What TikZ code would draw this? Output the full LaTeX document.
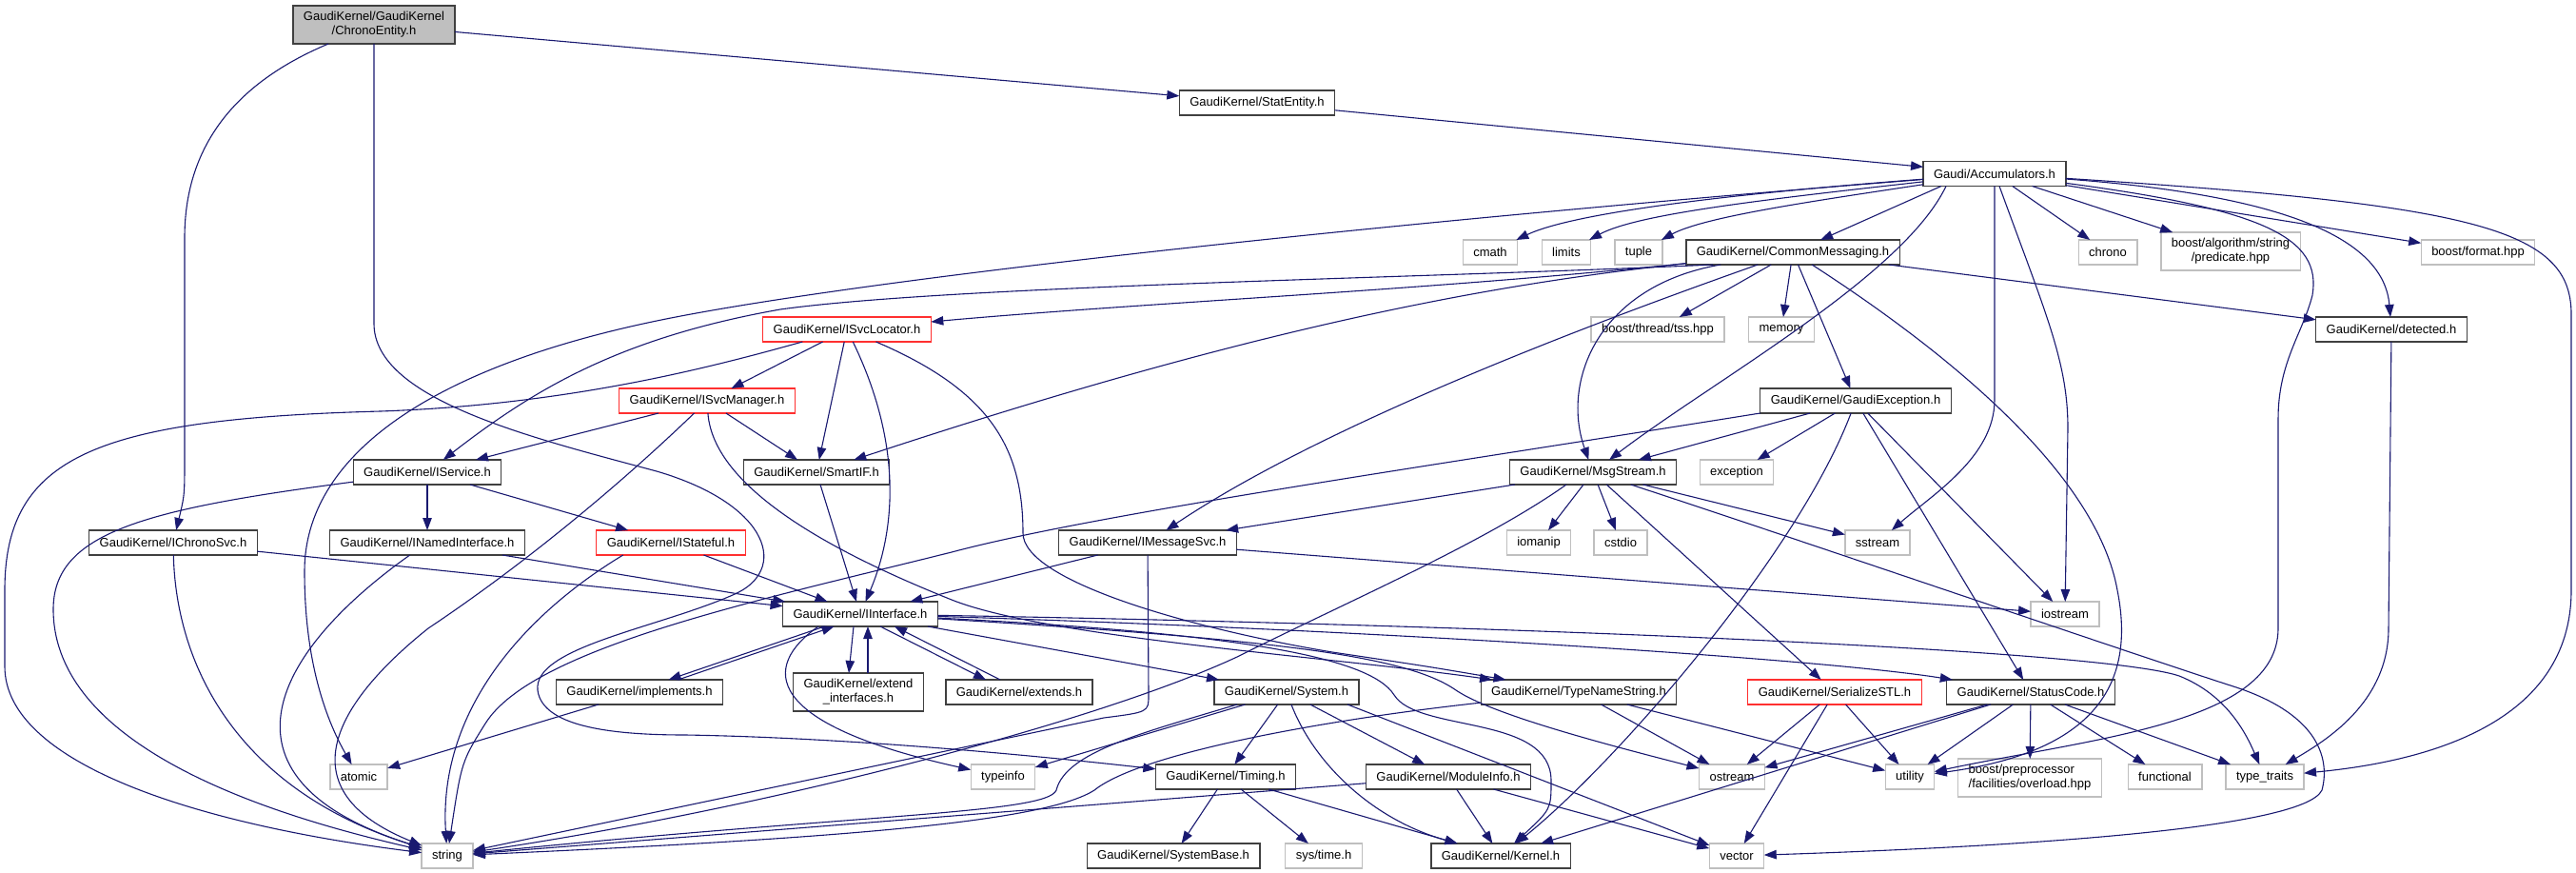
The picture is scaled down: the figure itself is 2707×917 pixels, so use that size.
\documentclass[tikz,border=0pt]{standalone}
\usepackage{fontspec}
\setmainfont{Liberation Sans}
\usetikzlibrary{arrows.meta}
\definecolor{edgec}{HTML}{191970}
\definecolor{gbord}{HTML}{BFBFBF}
\definecolor{rbord}{HTML}{FF3030}
\definecolor{kbord}{HTML}{404040}
\begin{document}
\begin{tikzpicture}[x=1pt,y=-1pt,
  nb/.style={draw=kbord,fill=white,line width=1.3pt,minimum height=26pt,inner xsep=11pt,inner ysep=2pt,outer sep=0pt,font=\fontsize{13}{15}\selectfont},
  ng/.style={nb,draw=gbord},
  nr/.style={nb,draw=rbord},
  two/.style={align=center,minimum height=40pt},
  e/.style={draw=edgec,line width=1.1pt,-{Triangle[length=13pt,width=9.5pt]}}]
\useasboundingbox (0,0) rectangle (2707,917);
% nodes
\node[nb,fill=gbord,two] (ce) at (393,26) {GaudiKernel/GaudiKernel\\/ChronoEntity.h};
\node[nb] (stat) at (1321,108) {GaudiKernel/StatEntity.h};
\node[nb] (acc) at (2096,182.5) {Gaudi/Accumulators.h};
\node[ng] (cmath) at (1566,265) {cmath};
\node[ng] (limits) at (1646,265) {limits};
\node[ng] (tuple) at (1722,265) {tuple};
\node[nb] (cm) at (1884,265) {GaudiKernel/CommonMessaging.h};
\node[ng] (chrono) at (2215,265) {chrono};
\node[ng,two] (pred) at (2344,264) {boost/algorithm/string\\/predicate.hpp};
\node[ng] (fmt) at (2604,265) {boost/format.hpp};
\node[nr] (isl) at (890,346) {GaudiKernel/ISvcLocator.h};
\node[ng] (tss) at (1742,346) {boost/thread/tss.hpp};
\node[ng] (memory) at (1872,346) {memory};
\node[nb] (det) at (2513,346) {GaudiKernel/detected.h};
\node[nr] (ism) at (743,421) {GaudiKernel/ISvcManager.h};
\node[nb] (gex) at (1950,421) {GaudiKernel/GaudiException.h};
\node[nb] (isvc) at (449,496) {GaudiKernel/IService.h};
\node[nb] (smart) at (858,496) {GaudiKernel/SmartIF.h};
\node[nb] (msg) at (1674,496) {GaudiKernel/MsgStream.h};
\node[ng] (exc) at (1825,496) {exception};
\node[nb] (ichr) at (182,570) {GaudiKernel/IChronoSvc.h};
\node[nb] (inamed) at (449,570) {GaudiKernel/INamedInterface.h};
\node[nr] (istate) at (705,570) {GaudiKernel/IStateful.h};
\node[nb] (imsg) at (1206,570) {GaudiKernel/IMessageSvc.h};
\node[ng] (iomanip) at (1617,570) {iomanip};
\node[ng] (cstdio) at (1703,570) {cstdio};
\node[ng] (sstream) at (1973,570) {sstream};
\node[nb] (iint) at (904,645) {GaudiKernel/IInterface.h};
\node[ng] (iostream) at (2170,645) {iostream};
\node[nb] (impl) at (672,727) {GaudiKernel/implements.h};
\node[nb,two] (extif) at (902,727) {GaudiKernel/extend\\\_interfaces.h};
\node[nb] (extends) at (1071,727) {GaudiKernel/extends.h};
\node[nb] (sys) at (1352,727) {GaudiKernel/System.h};
\node[nb] (tns) at (1659,727) {GaudiKernel/TypeNameString.h};
\node[nr] (ser) at (1928,727) {GaudiKernel/SerializeSTL.h};
\node[nb] (sc) at (2134,727) {GaudiKernel/StatusCode.h};
\node[ng] (atomic) at (377,816) {atomic};
\node[ng] (typeinfo) at (1054,816) {typeinfo};
\node[nb] (timing) at (1288,816) {GaudiKernel/Timing.h};
\node[nb] (modinfo) at (1522,816) {GaudiKernel/ModuleInfo.h};
\node[ng] (ostream) at (1820,816) {ostream};
\node[ng] (utility) at (2007,816) {utility};
\node[ng,align=left,minimum height=40pt] (overload) at (2133,817) {boost/preprocessor\\/facilities/overload.hpp};
\node[ng] (functional) at (2275,816) {functional};
\node[ng] (typetraits) at (2380,816) {type\_traits};
\node[ng] (string) at (470,899) {string};
\node[nb] (sysbase) at (1233,899) {GaudiKernel/SystemBase.h};
\node[ng] (systime) at (1391,899) {sys/time.h};
\node[nb] (kernel) at (1577,899) {GaudiKernel/Kernel.h};
\node[ng] (vector) at (1825,899) {vector};
% ChronoEntity
\draw[e] (ce) .. controls (240,90) and (194,160) .. (194,250) -- (194,480) .. controls (194,520) .. (ichr);
\draw[e] (ce) -- (stat);
\draw[e] (ce.south) -- (393,340) .. controls (393,420) and (560,460) .. (690,495) .. controls (810,530) and (830,600) .. (770,625) .. controls (690,660) and (560,680) .. (565,725) .. controls (570,765) and (650,772) .. (720,772) .. controls (900,775) and (1100,795) .. (timing);
\draw[e] (stat) -- (acc);
% Accumulators
\draw[e] (acc) .. controls (1800,205) and (1650,225) .. (cmath);
\draw[e] (acc) .. controls (1850,210) and (1720,225) .. (limits);
\draw[e] (acc) .. controls (1900,212) and (1790,228) .. (tuple);
\draw[e] ([xshift=-56pt]acc.south) -- (cm);
\draw[e] (acc) .. controls (1400,238) and (900,295) .. (700,335) .. controls (450,385) and (320,480) .. (320,600) .. controls (320,700) and (345,760) .. (atomic);
\draw[e] (acc) -- (chrono);
\draw[e] (acc) -- (pred);
\draw[e] (acc) -- (fmt);
\draw[e] (acc) .. controls (2400,205) and (2505,250) .. (det);
\draw[e] (acc) .. controls (2600,215) and (2702,240) .. (2702,330) -- (2702,620) .. controls (2702,760) and (2550,800) .. (typetraits);
\draw[e] (acc) .. controls (2380,220) and (2440,250) .. (2430,310) .. controls (2420,350) and (2394,380) .. (2394,440) -- (2394,660) .. controls (2394,760) and (2200,775) .. (utility);
\draw[e] ([xshift=-51pt]acc.south) .. controls (2000,290) and (1800,400) .. (msg);
\draw[e] (acc.south) -- (2096,420) .. controls (2096,480) and (2030,520) .. (sstream);
\draw[e] ([xshift=5pt]acc.south) .. controls (2150,330) and (2173,380) .. (2173,450) -- (iostream);
% CommonMessaging
\draw[e] ([xshift=-84pt]cm.south) .. controls (1500,292) and (1000,300) .. (820,325) .. controls (650,355) and (560,410) .. (isvc);
\draw[e] (cm) .. controls (1500,305) and (1200,318) .. (isl);
\draw[e] (cm) .. controls (1550,300) and (1300,350) .. (smart);
\draw[e] (cm) .. controls (1700,330) and (1400,440) .. (imsg);
\draw[e] (cm) .. controls (1680,300) and (1640,400) .. (msg);
\draw[e] (cm) -- (tss);
\draw[e] (cm) -- (memory);
\draw[e] (cm) -- (gex);
\draw[e] (cm) -- (det);
\draw[e] (cm) .. controls (2000,340) and (2200,480) .. (2225,620) .. controls (2245,720) and (2200,790) .. (utility);
% ISvcLocator
\draw[e] (isl) -- (ism);
\draw[e] (isl) -- (smart);
\draw[e] (isl) .. controls (950,470) and (940,560) .. (iint);
\draw[e] (isl) .. controls (1040,410) and (1075,470) .. (1075,560) .. controls (1075,610) and (1250,660) .. (1400,685) .. controls (1500,700) .. (tns);
\draw[e] (isl) .. controls (750,385) and (600,425) .. (400,432) .. controls (100,440) and (5,480) .. (5,620) -- (5,700) .. controls (5,800) and (200,865) .. (string);
% ISvcManager
\draw[e] (ism) -- (isvc);
\draw[e] (ism) -- (smart);
\draw[e] (ism) .. controls (750,520) and (900,590) .. (1000,630) .. controls (1100,670) and (1400,690) .. (tns);
\draw[e] (ism) .. controls (640,520) and (540,600) .. (450,660) .. controls (350,740) and (300,830) .. (string);
% IService
\draw[e] (isvc) -- (inamed);
\draw[e] (isvc) -- (istate);
\draw[e] (isvc) .. controls (150,535) and (56,560) .. (56,640) .. controls (56,790) and (300,860) .. (string);
% IChronoSvc, INamedInterface, IStateful, SmartIF
\draw[e] (ichr) -- (iint);
\draw[e] (ichr) .. controls (185,700) and (250,830) .. (string);
\draw[e] (inamed) -- (iint);
\draw[e] (inamed) .. controls (280,690) and (220,820) .. (string);
\draw[e] (istate) -- (iint);
\draw[e] ([xshift=28pt]istate.south west) .. controls (560,640) and (460,740) .. (string);
\draw[e] (smart) -- (iint);
% IMessageSvc
\draw[e] (imsg) -- (iint);
\draw[e] (imsg) -- (iostream);
\draw[e] (imsg) -- (1207,730) .. controls (1207,748) .. (1160,754) -- (string);
% MsgStream
\draw[e] (msg) -- (imsg);
\draw[e] (msg) -- (iomanip);
\draw[e] (msg) -- (cstdio);
\draw[e] (msg) -- (sstream);
\draw[e] (msg) -- (ser);
\draw[e] (msg) .. controls (1900,570) and (2250,690) .. (2350,722) .. controls (2440,752) and (2448,800) .. (2440,830) .. controls (2420,872) and (2100,890) .. (vector);
\draw[e] ([xshift=-28pt]msg.south) .. controls (1560,570) and (1420,630) .. (1300,690) .. controls (1150,760) and (800,850) .. (string);
% GaudiException
\draw[e] (gex.south west) .. controls (1500,490) and (1150,540) .. (1000,580) .. controls (800,630) and (560,680) .. (510,760) .. controls (485,800) .. (string);
\draw[e] (gex) -- (msg);
\draw[e] (gex) -- (exc);
\draw[e] (gex) .. controls (1890,580) and (1700,800) .. (kernel);
\draw[e] (gex) -- (sc);
\draw[e] (gex) -- (iostream);
% IInterface
\draw[e] ([xshift=44pt]iint.south west) -- ([xshift=-57pt]impl.north east);
\draw[e] ([xshift=-47pt]impl.north east) -- ([xshift=54pt]iint.south west);
\draw[e] ([xshift=-7pt]iint.south) -- ([xshift=-10pt]extif.north);
\draw[e] ([xshift=10pt]extif.north) -- ([xshift=8pt]iint.south);
\draw[e] ([xshift=21pt]iint.south) -- ([xshift=-35pt]extends.north);
\draw[e] ([xshift=-20pt]extends.north) -- ([xshift=36pt]iint.south);
\draw[e] ([xshift=-44pt]iint.south) .. controls (800,700) and (800,760) .. (typeinfo);
\draw[e] (iint) -- (sys);
\draw[e] (iint) .. controls (1500,655) and (2200,680) .. (2290,710) .. controls (2340,730) and (2360,770) .. (typetraits);
\draw[e] (iint) .. controls (1400,660) and (1900,690) .. (sc);
\draw[e] (iint) .. controls (1300,665) and (1440,690) .. (1465,730) .. controls (1490,770) and (1630,750) .. (1630,820) .. controls (1630,850) .. (kernel);
\draw[e] (iint) .. controls (1350,672) and (1480,690) .. (1530,725) .. controls (1570,752) and (1700,785) .. (ostream);
\draw[e] (impl) -- (atomic);
% System
\draw[e] (sys) -- (typeinfo);
\draw[e] (sys) -- (timing);
\draw[e] (sys) -- (modinfo);
\draw[e] (sys) .. controls (1380,800) and (1440,860) .. (kernel);
\draw[e] ([xshift=-12pt]sys.south east) -- (vector);
\draw[e] ([xshift=-52pt]sys.south) .. controls (1200,770) and (1120,790) .. (1110,830) .. controls (1100,855) and (900,855) .. (string);
% Timing, ModuleInfo
\draw[e] (timing) -- (sysbase);
\draw[e] (timing) -- (systime);
\draw[e] (timing) -- (kernel);
\draw[e] (modinfo) -- (kernel);
\draw[e] (modinfo) -- (vector);
\draw[e] (modinfo) -- (string);
% TypeNameString
\draw[e] (tns) -- (ostream);
\draw[e] (tns) -- (utility);
\draw[e] (tns) .. controls (1400,755) and (1200,790) .. (1150,830) .. controls (1100,862) and (900,880) .. (string);
% SerializeSTL
\draw[e] (ser) -- (ostream);
\draw[e] (ser) -- (vector);
\draw[e] (ser) -- (utility);
% StatusCode
\draw[e] (sc) -- (kernel);
\draw[e] (sc) -- (ostream);
\draw[e] (sc) -- (utility);
\draw[e] (sc) -- (overload);
\draw[e] (sc) -- (functional);
\draw[e] (sc) -- (typetraits);
% detected
\draw[e] (det) -- (2510,660) .. controls (2510,740) and (2440,780) .. (typetraits);
\end{tikzpicture}
\end{document}
